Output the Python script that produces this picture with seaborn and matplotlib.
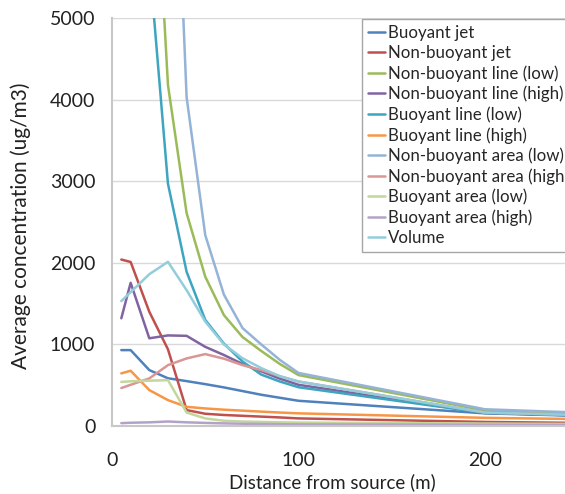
import matplotlib
matplotlib.use("Agg")
import matplotlib.pyplot as plt
import seaborn as sns
import pandas as pd

# ── Data ────────────────────────────────────────────────────────────────────
distance = [5, 10, 20, 30, 40, 50, 60, 70, 80, 90, 100, 200, 250]

buoyant_jet = [930, 930, 685, 585, 550, 513, 473, 428, 383, 346, 309, 155, 125]
non_buoyant_jet = [2040, 2010, 1400, 940, 195, 150, 135, 125, 115, 105, 93, 50, 38]
nb_line_low = [30000, 17000, 8300, 4180, 2610, 1830, 1359, 1090, 920, 760, 624, 190, 150]
nb_line_high = [1320, 1755, 1075, 1110, 1105, 970, 870, 760, 670, 580, 505, 160, 130]
b_line_low = [20000, 12000, 5700, 2970, 1890, 1300, 1010, 790, 630, 545, 475, 160, 130]
b_line_high = [645, 677, 440, 317, 235, 215, 200, 188, 176, 165, 155, 100, 85]
nb_area_low = [50000, 30000, 16000, 9600, 4030, 2340, 1610, 1200, 1000, 810, 650, 205, 165]
nb_area_high = [465, 505, 583, 746, 828, 881, 825, 746, 685, 610, 545, 165, 135]
b_area_low = [540, 548, 555, 562, 165, 93, 64, 55, 50, 45, 42, 30, 25]
b_area_high = [35, 40, 45, 55, 45, 38, 32, 28, 25, 22, 20, 15, 12]
volume = [1531, 1640, 1860, 2012, 1665, 1280, 1000, 830, 710, 610, 545, 165, 135]

series_names = ['Buoyant jet', 'Non-buoyant jet', 'Non-buoyant line (low)',
                'Non-buoyant line (high)', 'Buoyant line (low)', 'Buoyant line (high)',
                'Non-buoyant area (low)', 'Non-buoyant area (high)',
                'Buoyant area (low)', 'Buoyant area (high)', 'Volume']
series_values = [buoyant_jet, non_buoyant_jet, nb_line_low, nb_line_high,
                 b_line_low, b_line_high, nb_area_low, nb_area_high,
                 b_area_low, b_area_high, volume]
series_colors = ['#4F81BD', '#C0504D', '#9BBB59', '#8064A2', '#3DA5C0', '#F79646',
                 '#95B3D7', '#D99694', '#C3D69B', '#B3A2C7', '#92CDDC']

x_ticks = [0, 100, 200]
y_ticks = [0, 1000, 2000, 3000, 4000, 5000]

# ── Long-form table for seaborn ─────────────────────────────────────────────
rows = []
for name, vals in zip(series_names, series_values):
    for d, v in zip(distance, vals):
        rows.append({'distance': d, 'conc': v, 'series': name})
df = pd.DataFrame(rows)

sns.set_style('white')
plt.rcParams['font.family'] = ['Lato', 'DejaVu Sans']

fig = plt.figure(figsize=(5.65, 4.94), dpi=100)
# plot area runs past the right edge (reference is cropped)
ax = fig.add_axes([112 / 565, 68 / 494, 559.5 / 565, 408 / 494])

sns.lineplot(data=df, x='distance', y='conc', hue='series',
             hue_order=series_names, palette=dict(zip(series_names, series_colors)),
             linewidth=1.8, ax=ax, legend=True)

ax.set_xlim(0, 300)
ax.set_ylim(0, 5000)
ax.set_xticks(x_ticks)
ax.set_yticks(y_ticks)
ax.yaxis.grid(True, color='#D9D9D9', linewidth=1)
ax.set_axisbelow(True)

for side in ['top', 'right']:
    ax.spines[side].set_visible(False)
for side in ['left', 'bottom']:
    ax.spines[side].set_color('#C8C8C8')
    ax.spines[side].set_linewidth(1.5)

ax.tick_params(axis='both', direction='out', length=6, width=1,
               color='#C8C8C8', labelsize=14, labelcolor='#222222')
ax.tick_params(axis='x', pad=13)
ax.tick_params(axis='y', pad=6)

ax.set_xlabel('Distance from source (m)', fontsize=13.5, color='#222222')
ax.set_ylabel('Average concentration (ug/m3)', fontsize=15, color='#222222')
ax.xaxis.set_label_coords(0.393, -0.115)
ax.yaxis.set_label_coords(-0.145, 0.49)

handles, labels = ax.get_legend_handles_labels()
ax.legend(handles, labels, loc='upper left', bbox_to_anchor=(362 / 565, 1 - 19 / 494),
          bbox_transform=fig.transFigure, borderaxespad=0, fontsize=12.2,
          frameon=True, fancybox=False, framealpha=1, edgecolor='#A6A6A6',
          handlelength=1.0, handletextpad=0.2, labelspacing=0.24, borderpad=0.35)
ax.get_legend().get_frame().set_linewidth(1)

fig.savefig('out.png', dpi=100, facecolor='white')
